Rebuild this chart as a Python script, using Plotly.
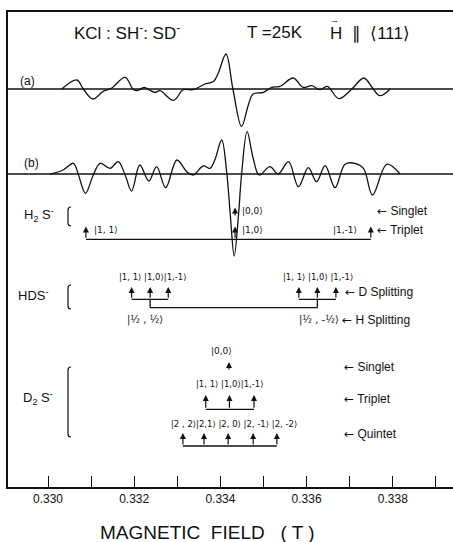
import plotly.graph_objects as go

# ---------------- data ----------------
# EPR derivative spectrum (a): field (T) and relative amplitude
a_field = [0.33032, 0.33067, 0.33082, 0.33104, 0.33128, 0.33148, 0.33179, 0.33197, 0.33206,
           0.33223, 0.33237, 0.33248, 0.33260, 0.33291, 0.33314, 0.33337, 0.33364, 0.33384,
           0.33395, 0.33413, 0.33429, 0.33449, 0.33465, 0.33476, 0.33500, 0.33519, 0.33538,
           0.33569, 0.33592, 0.33612, 0.33631, 0.33648, 0.33675, 0.33705, 0.33733, 0.33753,
           0.33770, 0.33794]
a_amp = [0, 9, 0, -10, -2.4, 1, 11.6, 0, -1.7,
         1.6, -1.4, -3.4, -1.7, -11.4, -0.7, -0.7, 5, 7.6,
         16, 35, 0, -37.4, -15.7, -5, -3.4, 1.6, 2.6,
         11, 1.6, 3.3, -0.7, 2.6, -9.7, 0, 11, 1,
         -6.7, 0]

# EPR spectrum (b)
b_field = [0.33005, 0.33035, 0.33059, 0.33070, 0.33087, 0.33105, 0.33121, 0.33144, 0.33163,
           0.33179, 0.33194, 0.33213, 0.33234, 0.33252, 0.33273, 0.33299, 0.33322, 0.33337,
           0.33360, 0.33376, 0.33387, 0.33403, 0.33415, 0.33423, 0.33432, 0.33442, 0.33449,
           0.33462, 0.33476, 0.33490, 0.33515, 0.33534, 0.33558, 0.33581, 0.33604, 0.33623,
           0.33643, 0.33666, 0.33689, 0.33712, 0.33732, 0.33753, 0.33786, 0.33817]
b_amp = [0, 4, 10.7, 0, -19.3, -1, 10.7, 5.7, 12.3,
         -1, -17, 9, -7, 7.3, -13.7, 14, 2.3, -1,
         8, 5.7, 14, 34, 0, -41, -82, -41, -1,
         42.3, 15.7, -1, 7.3, 0, 12.3, -12.7, 6.3, -7.7,
         8.3, -13.7, 9.7, 10.7, 5.7, -21, 9.7, 0]

tick_vals = [0.330, 0.331, 0.332, 0.333, 0.334, 0.335, 0.336, 0.337, 0.338, 0.339]
tick_text = ["0.330", "", "0.332", "", "0.334", "", "0.336", "", "0.338", ""]

# stick diagrams (line positions in T)
h2s_triplet = [0.33088, 0.33434, 0.33749]
h2s_singlet = [0.33434]
hds_d_left = [0.33194, 0.33237, 0.33279]
hds_d_right = [0.33582, 0.33625, 0.33668]
hds_h = [0.33237, 0.33625]
d2s_singlet = [0.33420]
d2s_triplet = [0.33366, 0.33421, 0.33478]
d2s_quintet = [0.33313, 0.33362, 0.33418, 0.33476, 0.33531]

# ---------------- layout helpers ----------------
X0, PX0, PPU = 0.330, 48.0, 43.1


def fx(px):
    return X0 + (px - PX0) / PPU * 0.001


def fy(py):
    return 487 - py


BASE_A, BASE_B = fy(89), fy(174)
INK = "#111111"
FONT = "Liberation Sans"
KFONT = "DejaVu Sans"
LARR = "<span style='font-family:DejaVu Sans'>←</span>"

fig = go.Figure()

# baselines
for base in (BASE_A, BASE_B):
    fig.add_trace(go.Scatter(x=[fx(8), fx(453)], y=[base, base], mode="lines",
                             line=dict(color=INK, width=1.5), hoverinfo="skip"))

fig.add_trace(go.Scatter(x=a_field, y=[BASE_A + v for v in a_amp], mode="lines",
                         line=dict(color=INK, width=1.3, shape="spline", smoothing=1.0)))
fig.add_trace(go.Scatter(x=b_field, y=[BASE_B + v for v in b_amp], mode="lines",
                         line=dict(color=INK, width=1.3, shape="spline", smoothing=1.0)))

annotations = []
shapes = []


def seg(x0, y0, x1, y1, w=1.3):
    fig.add_trace(go.Scatter(x=[x0, x1], y=[y0, y1], mode="lines",
                             line=dict(color=INK, width=w), hoverinfo="skip"))


def arrow(x, y_tail, y_head):
    annotations.append(dict(x=x, y=y_head, ax=x, ay=y_tail, xref="x", yref="y",
                            axref="x", ayref="y", showarrow=True, arrowhead=2,
                            arrowsize=1.0, arrowwidth=1.2, arrowcolor=INK, text=""))


def text(s, px, py, size=11, anchor="center", family=FONT):
    annotations.append(dict(x=fx(px), y=fy(py), xref="x", yref="y", text=s, showarrow=False,
                            xanchor=anchor, yanchor="middle",
                            font=dict(family=family, size=size, color=INK)))


def bracket(px, py0, py1):
    x, xh = fx(px), fx(px + 3)
    shapes.append(dict(type="path", xref="x", yref="y",
                       path=f"M {xh},{fy(py0)} Q {x},{fy(py0)} {x},{fy(py0 + 3)} "
                            f"L {x},{fy(py1 - 3)} Q {x},{fy(py1)} {xh},{fy(py1)}",
                       line=dict(color=INK, width=1.2)))


# H2S- : triplet + singlet
y_bar, y_head = fy(239.3), fy(226.5)
seg(h2s_triplet[0], y_bar, h2s_triplet[-1], y_bar)
for xv in h2s_triplet:
    arrow(xv, y_bar, y_head)
for xv in h2s_singlet:
    arrow(xv, fy(217), fy(207.5))

# HDS- : D splitting + H splitting
y_sub, y_head2, y_big = fy(299.3), fy(287), fy(307.7)
for grp in (hds_d_left, hds_d_right):
    seg(grp[0], y_sub, grp[-1], y_sub)
    for xv in grp:
        arrow(xv, y_sub, y_head2)
for xv in hds_h:
    seg(xv, y_big, xv, y_sub)
seg(hds_h[0], y_big, hds_h[1], y_big)

# D2S- : singlet, triplet, quintet
for xv in d2s_singlet:
    arrow(xv, fy(371), fy(362))
y_tb, y_th = fy(409.3), fy(395)
seg(d2s_triplet[0], y_tb, d2s_triplet[-1], y_tb)
for xv in d2s_triplet:
    arrow(xv, y_tb, y_th)
y_qb, y_qh = fy(446), fy(433)
seg(d2s_quintet[0], y_qb, d2s_quintet[-1], y_qb)
for xv in d2s_quintet:
    arrow(xv, y_qb, y_qh)

# brackets
bracket(68, 207, 226)
bracket(68, 285, 309)
bracket(68, 367, 437)

# title
text("KCl : SH<sup>-</sup>: SD<sup>-</sup>", 127, 32, size=17)
text("T =25K", 275, 32, size=17)
text("H  ∥  ⟨111⟩", 328, 33, size=17, anchor="left")
text("→", 334, 20, size=9)

text("(a)", 27, 81, size=12)
text("(b)", 31, 163, size=12)

# H2S labels
text("H<sub>2</sub> S<sup>-</sup>", 39, 215, size=13)
text("|1, 1⟩", 92, 230, size=9, anchor="left", family=KFONT)
text("|0,0⟩", 240, 211, size=9, anchor="left", family=KFONT)
text("|1,0⟩", 240, 230, size=9, anchor="left", family=KFONT)
text("|1,-1⟩", 331, 230, size=9, anchor="left", family=KFONT)
text(LARR + " Singlet", 375, 211, size=12, anchor="left")
text(LARR + " Triplet", 375, 230, size=12, anchor="left")

# HDS labels
text("HDS<sup>-</sup>", 33, 295, size=13)
text("|1, 1⟩ |1,0⟩|1,-1⟩", 153, 277, size=8.5, family=KFONT)
text("|1, 1⟩ |1,0⟩ |1,-1⟩", 318, 277, size=8.5, family=KFONT)
text(LARR + " D Splitting", 343, 292, size=12, anchor="left")
text("|½ , ½⟩", 125, 320, size=10, anchor="left", family=KFONT)
text("|½ , -½⟩", 297, 320, size=10, anchor="left", family=KFONT)
text(LARR + " H Splitting", 340, 320, size=12, anchor="left")

# D2S labels
text("D<sub>2</sub> S<sup>-</sup>", 38, 398, size=13)
text("|0,0⟩", 221, 351, size=9, family=KFONT)
text("|1, 1⟩ |1,0⟩|1,-1⟩", 230, 384, size=8.5, family=KFONT)
text("|2 , 2⟩|2,1⟩ |2, 0⟩ |2, -1⟩ |2, -2⟩", 234, 424, size=8.5, family=KFONT)
text(LARR + " Singlet", 342, 367, size=12, anchor="left")
text(LARR + " Triplet", 342, 399, size=12, anchor="left")
text(LARR + " Quintet", 342, 434, size=12, anchor="left")

# axis title (paper coordinates, below the plot area)
annotations.append(dict(x=(207 - 8) / 445, y=(487 - 532) / 475, xref="paper", yref="paper",
                        text="MAGNETIC  FIELD   ( T )", showarrow=False,
                        xanchor="center", yanchor="middle",
                        font=dict(family=FONT, size=19, color=INK)))

fig.update_layout(
    width=453, height=542,
    margin=dict(l=8, r=0, t=12, b=55),
    paper_bgcolor="white", plot_bgcolor="white",
    showlegend=False,
    annotations=annotations, shapes=shapes,
    xaxis=dict(range=[fx(8), fx(453)], tickvals=tick_vals, ticktext=tick_text,
               ticks="inside", ticklen=11, tickwidth=1.3, tickcolor=INK,
               showline=True, linecolor=INK, linewidth=1.6, mirror=True,
               showgrid=False, zeroline=False,
               tickfont=dict(family=FONT, size=12, color=INK)),
    yaxis=dict(range=[0, 475], showticklabels=False, ticks="", showgrid=False,
               zeroline=False, showline=True, linecolor=INK, linewidth=1.6, mirror=False),
)

fig.write_html("out.html")
